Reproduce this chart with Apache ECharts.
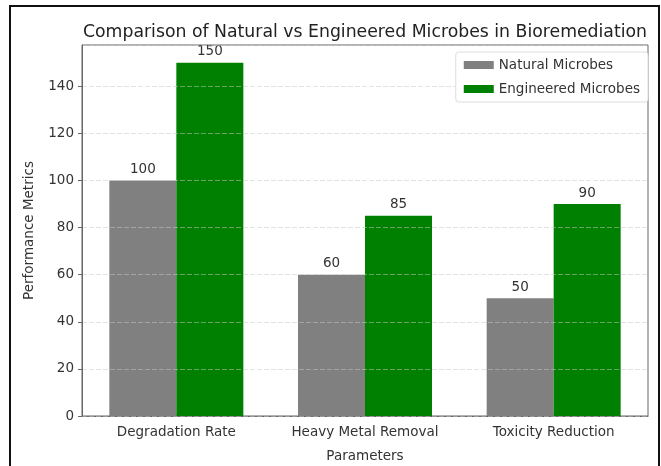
<!DOCTYPE html>
<html>
<head>
<meta charset="utf-8">
<script src="https://cdn.jsdelivr.net/npm/echarts@6/dist/echarts.min.js"></script>
<style>html,body{margin:0;padding:0;background:#fff}#c{width:661px;height:466px}</style>
</head>
<body>
<div id="c"></div>
<script>
var categories = ['Degradation Rate', 'Heavy Metal Removal', 'Toxicity Reduction'];
var naturalValues = [100, 60, 50];
var engineeredValues = [150, 85, 90];
var seriesNames = ['Natural Microbes', 'Engineered Microbes'];
var titleText = 'Comparison of Natural vs Engineered Microbes in Bioremediation';
var xAxisName = 'Parameters';
var yAxisName = 'Performance Metrics';

var font = 'DejaVu Sans';
var fs = 13.5;
var chart = echarts.init(document.getElementById('c'), null, {renderer: 'canvas'});
var lbl = {show: true, position: 'top', distance: 4, color: '#333', fontFamily: font, fontSize: fs};
chart.setOption({
  animation: false,
  backgroundColor: '#fff',
  title: {
    text: titleText, left: 360, top: 19, textAlign: 'center',
    textStyle: {fontFamily: font, fontSize: 17.3, fontWeight: 'normal', color: '#222'}
  },
  graphic: [{
    type: 'rect', shape: {x: 10, y: 6, width: 649, height: 480},
    style: {fill: null, stroke: '#111', lineWidth: 2}, silent: true
  }],
  legend: {
    data: seriesNames, orient: 'vertical', right: 13, top: 52,
    itemWidth: 30, itemHeight: 8, itemGap: 10, padding: [6, 8, 6, 8],
    borderColor: '#ddd', borderWidth: 1, borderRadius: 3, backgroundColor: '#fff',
    textStyle: {fontFamily: font, fontSize: fs, color: '#333'}, icon: 'rect'
  },
  grid: {left: 82, right: 13, top: 45, bottom: 50, outerBoundsMode: 'none', containLabel: false, show: true, borderColor: '#666', borderWidth: 1, backgroundColor: 'transparent'},
  xAxis: {
    type: 'category', data: categories,
    name: xAxisName, nameLocation: 'middle', nameGap: 33,
    nameTextStyle: {fontFamily: font, fontSize: fs, color: '#333'},
    axisLine: {lineStyle: {color: '#666'}},
    axisTick: {alignWithLabel: true, length: 4, lineStyle: {color: '#666'}},
    axisLabel: {fontFamily: font, fontSize: fs, color: '#333', margin: 9, interval: 0, hideOverlap: false}
  },
  yAxis: {
    type: 'value', min: 0, max: 157.5, interval: 20, z: 3,
    name: yAxisName, nameLocation: 'middle', nameGap: 46,
    nameTextStyle: {fontFamily: font, fontSize: fs, color: '#333'},
    axisLine: {show: true, lineStyle: {color: '#666'}},
    axisTick: {show: true, length: 4, lineStyle: {color: '#666'}},
    axisLabel: {fontFamily: font, fontSize: fs, color: '#333', margin: 8, showMaxLabel: false},
    splitLine: {show: true, lineStyle: {color: 'rgba(200,200,200,0.5)', type: [5, 2], width: 1}}
  },
  series: [
    {name: seriesNames[0], type: 'bar', data: naturalValues, barWidth: 67, barGap: '0%', itemStyle: {color: '#808080'}, label: lbl},
    {name: seriesNames[1], type: 'bar', data: engineeredValues, barWidth: 67, barGap: '0%', itemStyle: {color: '#008000'}, label: lbl}
  ]
});
</script>
</body>
</html>
